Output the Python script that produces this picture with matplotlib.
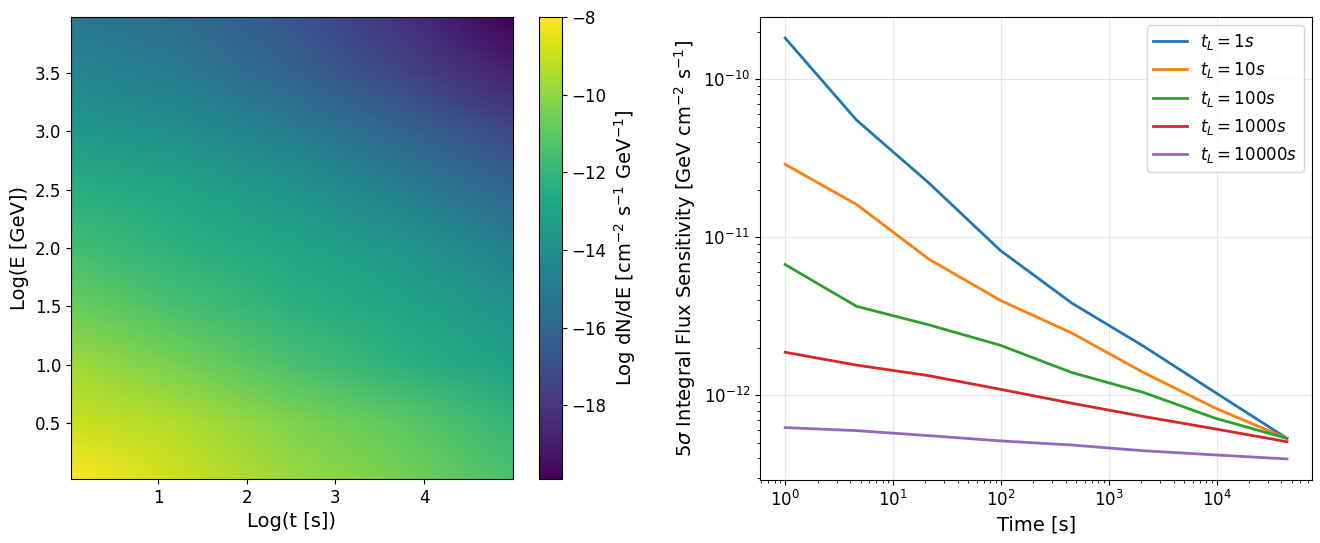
"""Spectrum map vs time, plus 5-sigma integral flux sensitivity curves."""
import matplotlib
matplotlib.use("Agg")
import matplotlib.pyplot as plt
import numpy as np

# --- left panel: log dN/dE at a coarse grid ---------------------------------
log_t = [0.02, 1.25, 2.5, 3.75, 5.0]
log_e = [0.02, 0.5, 1.0, 1.5, 2.0, 2.5, 3.0, 3.5, 3.98]
log_dnde = [
    [-8.0, -8.9, -9.8, -10.5, -11.4],
    [-8.95, -9.4, -10.3, -11.0, -12.0],
    [-9.7, -10.5, -11.4, -12.3, -13.1],
    [-10.7, -11.5, -12.3, -12.9, -13.8],
    [-11.6, -12.3, -12.85, -13.6, -14.8],
    [-12.4, -12.9, -13.7, -14.8, -16.0],
    [-13.5, -14.0, -14.9, -16.0, -17.3],
    [-14.4, -15.0, -16.1, -17.4, -18.8],
    [-15.1, -15.7, -16.7, -18.2, -19.9],
]

# --- right panel: sensitivity curves ----------------------------------------
time_s = [1, 4.6, 21.4, 99, 457, 2110, 9750, 45000]
sens = {
    "1": [1.82e-10, 5.5e-11, 2.21e-11, 8.24e-12, 3.82e-12, 2.04e-12, 1.04e-12, 5.33e-13],
    "10": [2.89e-11, 1.61e-11, 7.28e-12, 3.98e-12, 2.47e-12, 1.39e-12, 8.28e-13, 5.33e-13],
    "100": [6.71e-12, 3.65e-12, 2.79e-12, 2.07e-12, 1.39e-12, 1.04e-12, 7.15e-13, 5.33e-13],
    "1000": [1.87e-12, 1.55e-12, 1.33e-12, 1.09e-12, 8.89e-13, 7.33e-13, 6.12e-13, 5.08e-13],
    "10000": [6.24e-13, 5.97e-13, 5.55e-13, 5.14e-13, 4.84e-13, 4.45e-13, 4.19e-13, 3.95e-13],
}

fig = plt.figure(figsize=(13.2, 5.43), dpi=100)
ax1 = fig.add_axes([0.0538, 0.1179, 0.3348, 0.8508])
cax = fig.add_axes([0.4083, 0.1179, 0.0174, 0.8508])
ax2 = fig.add_axes([0.5758, 0.1160, 0.4182, 0.8527])

mesh = ax1.pcolormesh(log_t, log_e, np.array(log_dnde), cmap="viridis",
                      shading="gouraud")
ax1.set_xlim(log_t[0], log_t[-1]); ax1.set_ylim(log_e[0], log_e[-1])
ax1.set_xticks([1, 2, 3, 4])
ax1.set_yticks([0.5, 1.0, 1.5, 2.0, 2.5, 3.0, 3.5])
ax1.set_xlabel("Log(t [s])", fontsize=14)
ax1.set_ylabel("Log(E [GeV])", fontsize=14)
ax1.tick_params(labelsize=12)

cb = fig.colorbar(mesh, cax=cax)
cb.set_ticks([-8, -10, -12, -14, -16, -18])
cb.set_label(r"Log dN/dE [cm$^{-2}$ s$^{-1}$ GeV$^{-1}$]", fontsize=14)
cb.ax.tick_params(labelsize=12)

for name, vals in sens.items():
    ax2.plot(time_s, vals, lw=2, label=rf"$t_L = {name}s$")
ax2.set_xscale("log"); ax2.set_yscale("log")
ax2.grid(True, alpha=0.3)
ax2.set_xlabel("Time [s]", fontsize=14)
ax2.set_ylabel(r"5$\sigma$ Integral Flux Sensitivity [GeV cm$^{-2}$ s$^{-1}$]", fontsize=14)
ax2.tick_params(labelsize=12)
ax2.legend(fontsize=12, loc="upper right")

fig.savefig("out.png", dpi=100)
